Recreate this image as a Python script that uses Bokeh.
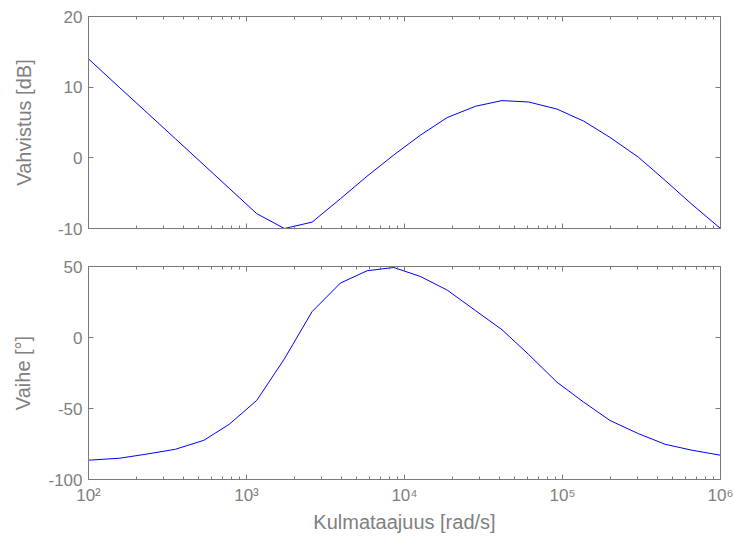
from bokeh.plotting import figure
from bokeh.models import (LinearAxis, LogAxis, FixedTicker, CustomJSTickFormatter,
                          Range1d)
from bokeh.layouts import column
from bokeh.embed import file_html
from bokeh.resources import INLINE

# Angular frequency [rad/s]
freq = [100, 158, 237, 355, 537, 776, 1161, 1738, 2600, 3926, 5794, 8551,
        12589, 18621, 28184, 41400, 61094, 92257, 136144, 199526, 301995,
        446684, 660693, 1000000]
# Gain [dB]
gain_db = [14.0, 9.9, 6.3, 2.7, -1.0, -4.3, -7.9, -10.0, -9.1, -5.8, -2.6,
           0.4, 3.2, 5.7, 7.3, 8.1, 7.9, 6.9, 5.2, 2.9, 0.1, -3.2, -6.6, -10.0]
# Phase [deg]
phase_deg = [-86.4, -85.0, -82.0, -78.7, -72.4, -61.2, -44.3, -15.0, 18.2,
             38.3, 47.0, 49.3, 43.0, 33.4, 18.9, 5.5, -12.0, -31.5, -45.5,
             -58.4, -67.7, -75.2, -79.4, -82.9]

x_major = [1e2, 1e3, 1e4, 1e5, 1e6]
gain_ticks = [-10, 0, 10, 20]
phase_ticks = [-100, -50, 0, 50]

FONT = "Liberation Sans"
GREY = "#808080"
LINE_GREY = "#7a7a7a"

x_minor = [m * d for d in [1e2, 1e3, 1e4, 1e5] for m in range(2, 10)]

sup_fmt = CustomJSTickFormatter(code="""
const sup = {'0':'\u2070','1':'\u00b9','2':'\u00b2','3':'\u00b3','4':'\u2074',
             '5':'\u2075','6':'\u2076','7':'\u2077','8':'\u2078','9':'\u2079','-':'\u207b'};
const e = Math.round(Math.log10(tick));
return '10' + String(e).split('').map(c => sup[c]).join('');
""")
blank_fmt = CustomJSTickFormatter(code="return '';")
plain_fmt = CustomJSTickFormatter(code="return String(Math.round(tick));")


def style_axis(ax, show_labels):
    ax.axis_line_color = LINE_GREY
    ax.major_tick_line_color = LINE_GREY
    ax.minor_tick_line_color = LINE_GREY
    ax.major_tick_in = 5
    ax.major_tick_out = 0
    ax.minor_tick_in = 3
    ax.minor_tick_out = 0
    ax.major_label_text_color = GREY
    ax.major_label_text_font = FONT
    ax.major_label_text_font_size = "17px"
    ax.axis_label_text_color = GREY
    ax.axis_label_text_font = FONT
    ax.axis_label_text_font_size = "20px"
    ax.axis_label_text_font_style = "normal"
    if not show_labels:
        ax.major_label_text_font_size = "0px"
        ax.major_label_standoff = 0


def make_fig(height, top, bottom, y_rng, y_ticks, y_label, y_std, x_label):
    p = figure(width=734, height=height, x_axis_type="log",
               x_range=Range1d(1e2, 1e6), y_range=Range1d(*y_rng),
               output_backend="svg", toolbar_location=None,
               min_border_left=88, min_border_right=14,
               min_border_top=top, min_border_bottom=bottom,
               background_fill_color="white", border_fill_color="white")
    p.xgrid.visible = False
    p.ygrid.visible = False
    p.outline_line_color = LINE_GREY

    xt = FixedTicker(ticks=x_major, minor_ticks=x_minor)
    yt = FixedTicker(ticks=y_ticks, minor_ticks=[])

    xa = p.xaxis[0]
    xa.ticker = xt
    if x_label:
        xa.formatter = sup_fmt
        xa.axis_label = x_label
        style_axis(xa, True)
        xa.major_label_standoff = 6
        xa.axis_label_standoff = 3
    else:
        xa.formatter = blank_fmt
        style_axis(xa, False)

    ya = p.yaxis[0]
    ya.ticker = yt
    ya.formatter = plain_fmt
    ya.axis_label = y_label
    style_axis(ya, True)
    ya.major_label_standoff = 6
    ya.axis_label_standoff = y_std
    ya.minor_tick_in = 0

    top_ax = LogAxis(ticker=xt, formatter=blank_fmt)
    style_axis(top_ax, False)
    p.add_layout(top_ax, "above")

    right_ax = LinearAxis(ticker=yt, formatter=blank_fmt)
    style_axis(right_ax, False)
    right_ax.minor_tick_in = 0
    p.add_layout(right_ax, "right")
    return p


p1 = make_fig(246, 16, 18, (-10, 20), gain_ticks, "Vahvistus [dB]", 20, None)
p1.line(freq, gain_db, line_color="#0000ff", line_width=1)

p2 = make_fig(290, 20, 57, (-100, 50), phase_ticks, "Vaihe [\u00b0]", 11,
              "Kulmataajuus [rad/s]")
p2.line(freq, phase_deg, line_color="#0000ff", line_width=1)

layout = column(p1, p2, spacing=0)

open("out.html", "w").write(file_html(layout, INLINE))
